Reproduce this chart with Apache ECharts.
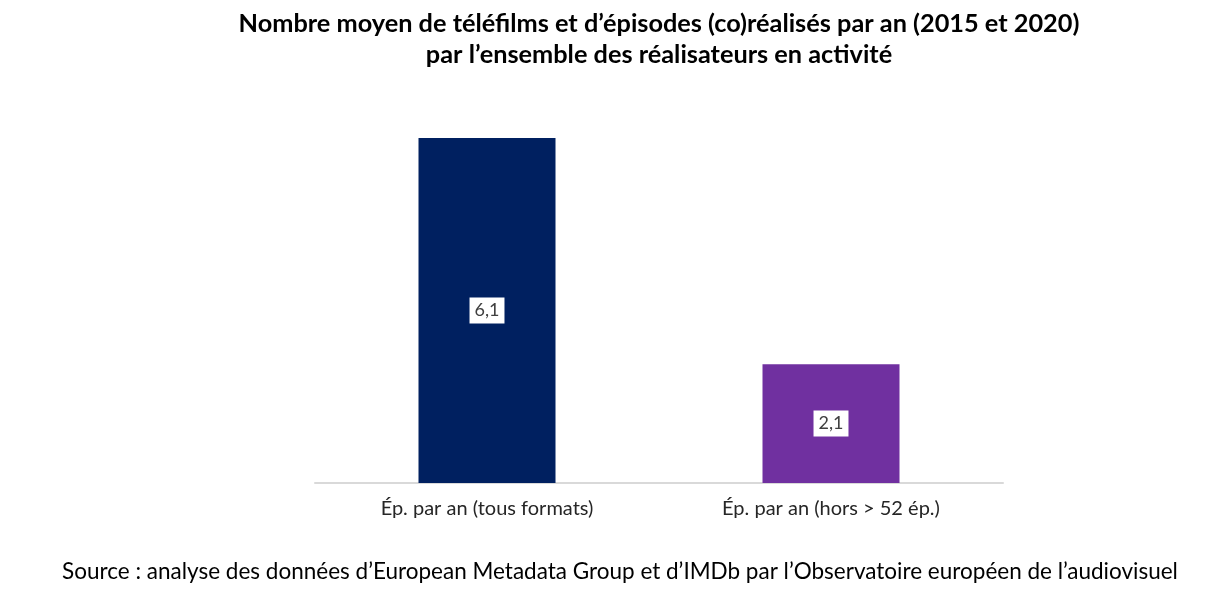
<!DOCTYPE html>
<html><head><meta charset="utf-8">
<script src="https://cdn.jsdelivr.net/npm/echarts@6/dist/echarts.min.js"></script>
<style>html,body{margin:0;padding:0;background:#fff}#c{width:1217px;height:590px}</style>
</head><body><div id="c"></div>
<script>
const categories = ['Ép. par an (tous formats)', 'Ép. par an (hors > 52 ép.)'];
const values = [6.1, 2.1];
const barColors = ['#002060', '#7030A0'];
const titleLines = ['Nombre moyen de téléfilms et d’épisodes (co)réalisés par an (2015 et 2020)', 'par l’ensemble des réalisateurs en activité'];
const sourceText = 'Source : analyse des données d’European Metadata Group et d’IMDb par l’Observatoire européen de l’audiovisuel';

const chart = echarts.init(document.getElementById('c'));
chart.setOption({
  animation: false,
  title: [{
    text: titleLines.join('\n'),
    left: 654, top: 3, textAlign: 'center',
    textStyle: {fontFamily: 'Lato', fontWeight: 'bold', fontSize: 25.3, lineHeight: 31, color: '#000'}
  }, {
    text: sourceText,
    left: 615, top: 555, textAlign: 'center',
    textStyle: {fontFamily: 'Lato', fontWeight: 'normal', fontSize: 22.5, color: '#000'}
  }],
  grid: {left: 315, right: 214, top: 87, bottom: 107},
  xAxis: {
    type: 'category', data: categories,
    axisLine: {lineStyle: {color: '#D9D9D9', width: 2}},
    axisTick: {show: false},
    axisLabel: {fontFamily: 'Lato', fontSize: 20, color: '#262626', margin: 16}
  },
  yAxis: {type: 'value', min: 0, max: 7, show: false, splitLine: {show: false}},
  series: [{
    type: 'bar', barWidth: 137,
    data: values.map((v, i) => ({value: v, itemStyle: {color: barColors[i]}})),
    label: {
      show: true, position: 'inside',
      formatter: p => String(p.value).replace('.', ','),
      backgroundColor: '#fff', padding: [5, 5, 3, 5],
      fontFamily: 'Lato', fontSize: 18, color: '#404040'
    }
  }]
});
</script></body></html>
